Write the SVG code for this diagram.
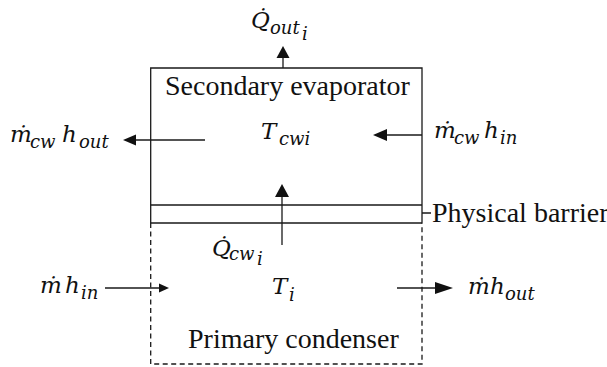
<svg xmlns="http://www.w3.org/2000/svg" width="607" height="367" viewBox="0 0 607 367">
<rect width="607" height="367" fill="#fff"/>
<g id="secondary-evaporator">
<path d="M150.7,223 V68 H422 V223" fill="none" stroke="#1a1a1a" stroke-width="1.3"/>
<text x="165" y="95" font-family="Liberation Serif" font-size="28" fill="#111">Secondary evaporator</text>
<text x="261" y="139" font-family="DejaVu Serif" font-style="italic" font-size="23" fill="#111">T<tspan font-size="18" x="279" y="145">cwi</tspan></text>
</g>
<g id="physical-barrier">
<path d="M150.7,205 H422 M150.7,223 H422 M422,213 H431" fill="none" stroke="#1a1a1a" stroke-width="1.3"/>
<text x="432" y="222" font-family="Liberation Serif" font-size="28" fill="#111">Physical barrier</text>
</g>
<g id="primary-condenser">
<path d="M150.7,223 V364 H422 V223" fill="none" stroke="#1a1a1a" stroke-width="1.3" stroke-dasharray="5 3.5"/>
<text x="188" y="348" font-family="Liberation Serif" font-size="28" fill="#111">Primary condenser</text>
<text x="272" y="294" font-family="DejaVu Serif" font-style="italic" font-size="23" fill="#111">T<tspan font-size="18" x="289" y="301">i</tspan></text>
</g>
<g id="label-qout">
<text x="251" y="28" font-family="DejaVu Serif" font-style="italic" font-size="23" fill="#111">Q̇<tspan font-size="18" x="270" y="34">out</tspan><tspan font-size="18" x="302" y="40">i</tspan></text>
</g>
<g id="label-qcw">
<text x="212" y="256" font-family="DejaVu Serif" font-style="italic" font-size="23" fill="#111">Q̇<tspan font-size="18" x="229" y="260">cw</tspan><tspan font-size="18" x="257" y="265">i</tspan></text>
</g>
<g id="label-mcw-hout">
<text x="10" y="142" font-family="DejaVu Serif" font-style="italic" font-size="23" fill="#111">ṁ<tspan font-size="18" x="30" y="148">cw</tspan><tspan x="62" y="142">h</tspan><tspan font-size="18" x="79" y="148">out</tspan></text>
</g>
<g id="label-mcw-hin">
<text x="434" y="138" font-family="DejaVu Serif" font-style="italic" font-size="23" fill="#111">ṁ<tspan font-size="18" x="454" y="144">cw</tspan><tspan x="484" y="138">h</tspan><tspan font-size="18" x="500" y="144">in</tspan></text>
</g>
<g id="label-mhin">
<text x="40" y="293" font-family="DejaVu Serif" font-style="italic" font-size="23" fill="#111">ṁ<tspan x="65" y="293">h</tspan><tspan font-size="18" x="81" y="299">in</tspan></text>
</g>
<g id="label-mhout">
<text x="468" y="294" font-family="DejaVu Serif" font-style="italic" font-size="23" fill="#111">ṁ<tspan x="490" y="294">h</tspan><tspan font-size="18" x="505" y="300">out</tspan></text>
</g>
<g id="connectors">
<g fill="none" stroke="#1a1a1a" stroke-width="1.3">
<path d="M283,68 V57"/>
<path d="M205,140 H135"/>
<path d="M422,135 H387"/>
<path d="M282,245 V196"/>
<path d="M105,288 H161"/>
<path d="M397,288 H436"/>
</g>
<g fill="#111" stroke="none">
<path d="M283,46 L289.5,58 L276.5,58 Z"/>
<path d="M123,140 L136,134.5 L136,145.5 Z"/>
<path d="M373,135 L387,129 L387,141 Z"/>
<path d="M282,184 L289,197 L275,197 Z"/>
<path d="M169,288 L159,283.5 L159,292.5 Z"/>
<path d="M453,288 L435,282 L435,294 Z"/>
</g>
</g>
</svg>
